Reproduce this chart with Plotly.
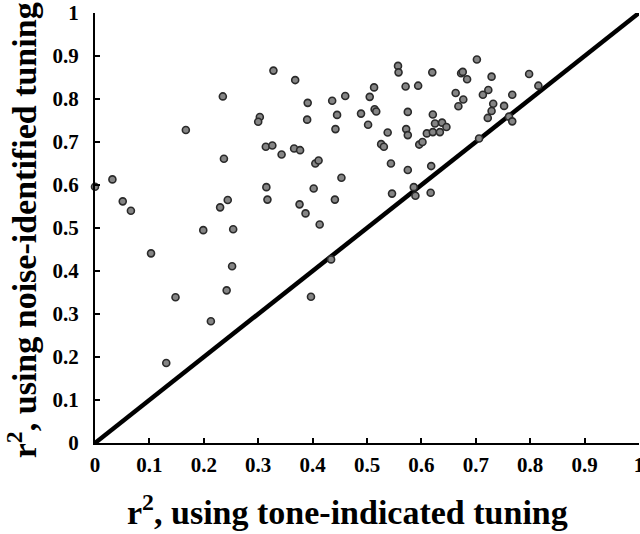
import plotly.graph_objects as go

# r^2 using tone-indicated tuning (x) vs r^2 using noise-identified tuning (y)
tone_r2 = [
    0.000, 0.032, 0.051, 0.066, 0.103, 0.167, 0.199, 0.235, 0.237, 0.230,
    0.244, 0.254, 0.252, 0.328, 0.368, 0.303, 0.300, 0.314, 0.326, 0.343,
    0.315, 0.317, 0.366, 0.377, 0.391, 0.390, 0.405, 0.411, 0.402, 0.376,
    0.387, 0.413, 0.436, 0.460, 0.445, 0.442, 0.453, 0.441, 0.434,
    0.148, 0.242, 0.213, 0.131, 0.397,
    0.489, 0.502, 0.505, 0.513, 0.514, 0.517, 0.557, 0.558, 0.571, 0.594,
    0.620, 0.575, 0.538, 0.572, 0.575, 0.526, 0.531, 0.544, 0.575, 0.618,
    0.546, 0.586, 0.589, 0.617, 0.596, 0.602, 0.610, 0.621, 0.625, 0.621,
    0.634, 0.638, 0.646, 0.663, 0.668, 0.677, 0.673, 0.676, 0.684, 0.702,
    0.706, 0.713, 0.723, 0.729, 0.732, 0.729, 0.722, 0.752, 0.767, 0.761,
    0.767, 0.798, 0.815,
]
noise_r2 = [
    0.596, 0.613, 0.562, 0.540, 0.441, 0.728, 0.495, 0.806, 0.661, 0.548,
    0.565, 0.497, 0.411, 0.866, 0.844, 0.758, 0.747, 0.689, 0.692, 0.671,
    0.595, 0.566, 0.685, 0.681, 0.791, 0.752, 0.650, 0.657, 0.592, 0.555,
    0.534, 0.508, 0.796, 0.807, 0.763, 0.730, 0.617, 0.566, 0.427,
    0.339, 0.355, 0.283, 0.186, 0.340,
    0.766, 0.740, 0.805, 0.827, 0.776, 0.771, 0.877, 0.862, 0.829, 0.831,
    0.862, 0.770, 0.722, 0.730, 0.716, 0.695, 0.689, 0.650, 0.635, 0.644,
    0.580, 0.595, 0.575, 0.582, 0.694, 0.700, 0.720, 0.764, 0.743, 0.723,
    0.723, 0.745, 0.735, 0.814, 0.783, 0.799, 0.860, 0.863, 0.846, 0.892,
    0.708, 0.810, 0.821, 0.852, 0.789, 0.772, 0.756, 0.784, 0.810, 0.759,
    0.748, 0.858, 0.831,
]

# Unity (y = x) reference line
unity_line = [0, 1]

tick_vals = [0, 0.1, 0.2, 0.3, 0.4, 0.5, 0.6, 0.7, 0.8, 0.9, 1]
tick_text = ["0", "0.1", "0.2", "0.3", "0.4", "0.5", "0.6", "0.7", "0.8", "0.9", "1"]

x_title = "<b>r<sup>2</sup>, using tone-indicated tuning</b>"
y_title = "<b>r<sup>2</sup>, using noise-identified tuning</b>"

FONT = "Liberation Serif"

fig = go.Figure()
fig.add_trace(go.Scatter(
    x=unity_line, y=unity_line, mode="lines",
    line=dict(color="black", width=4.5),
    hoverinfo="skip", showlegend=False,
))
fig.add_trace(go.Scatter(
    x=tone_r2, y=noise_r2, mode="markers",
    marker=dict(size=7, color="#858585", line=dict(color="#2a2a2a", width=1.6)),
    showlegend=False, cliponaxis=False,
))

axis_common = dict(
    range=[0, 1], tickvals=tick_vals, ticktext=tick_text,
    ticks="inside", ticklen=5, tickwidth=2, tickcolor="black",
    showline=True, linecolor="black", linewidth=2,
    showgrid=False, zeroline=False, automargin=False,
    ticklabeloverflow="allow",
    tickfont=dict(family=FONT, size=21, color="black", weight="bold"),
)

fig.update_layout(
    width=640, height=534,
    margin=dict(l=95, r=1, t=13, b=91),
    paper_bgcolor="white", plot_bgcolor="white",
    font=dict(family=FONT, color="black"),
    xaxis=dict(**axis_common, ticklabelstandoff=2),
    yaxis=dict(**axis_common, ticklabelstandoff=10),
    annotations=[
        dict(text=x_title, xref="paper", yref="paper", x=0.465, y=-0.156,
             xanchor="center", yanchor="middle", showarrow=False,
             font=dict(family=FONT, size=34, color="black")),
        dict(text=y_title, xref="paper", yref="paper", x=-0.134, y=0.495,
             xanchor="center", yanchor="middle", showarrow=False, textangle=-90,
             font=dict(family=FONT, size=34, color="black")),
    ],
)

fig.write_html(
    "out.html",
    config={"displayModeBar": False},
    post_script="document.body.style.margin='0';document.body.style.overflow='hidden';",
)
